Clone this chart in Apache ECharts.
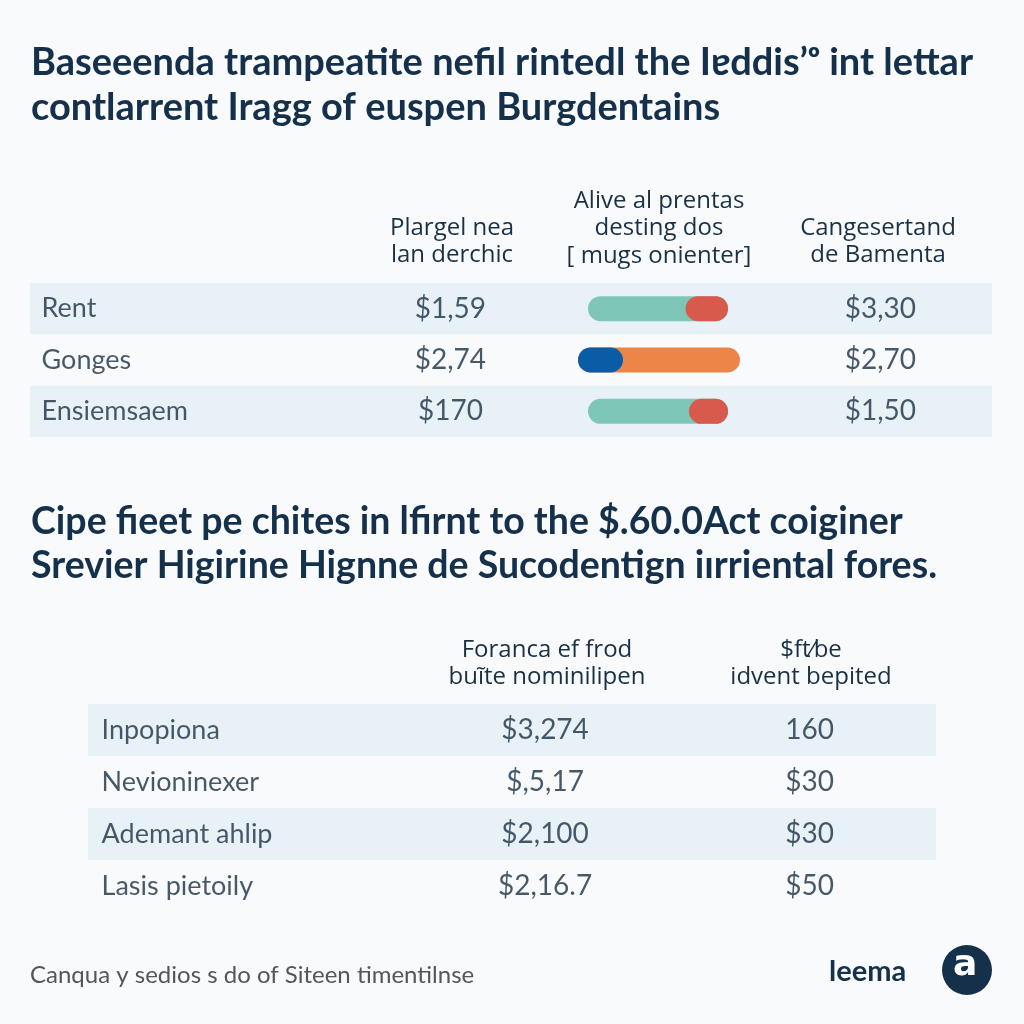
<!DOCTYPE html>
<html>
<head>
<meta charset="utf-8">
<script src="https://cdn.jsdelivr.net/npm/echarts@6/dist/echarts.min.js"></script>
<style>
html,body{margin:0;padding:0;background:#f8fafb;}
#chart{width:1024px;height:1024px;}
</style>
</head>
<body>
<div id="chart"></div>
<script>
// ---------- data ----------
const titleLines = ['Baseeenda trampeatite nefil rintedl the I\u0250ddis\u2019\u1d52 int lettar', 'contlarrent Iragg of euspen Burgdentains'];
const subtitleLines = ['Cipe fieet pe chites in lfirnt to the $.60.0Act coiginer', 'Srevier Higirine Hignne de Sucodentign iırriental fores.'];
const topHeaders = ['Plargel nea\nlan derchic', 'Alive al prentas\ndesting dos\n[ mugs onienter]', 'Cangesertand\nde Bamenta'];
const topRows = ['Rent', 'Gonges', 'Ensiemsaem'];
const topCol1 = ['$1,59', '$2,74', '$170'];
const topCol3 = ['$3,30', '$2,70', '$1,50'];
const trackStart = [6.2, 0, 6.2];
const trackLength = [86.4, 100, 86.4];
const accentStart = [66.4, 0, 68.5];
const accentLength = [26.2, 27.8, 24.1];
const bottomHeaders = ['Foranca ef frod\nbu\u0129te nominilipen', '$ft\u2044be\nidvent bepited'];
const bottomRows = ['Inpopiona', 'Nevioninexer', 'Ademant ahlip', 'Lasis pietoily'];
const bottomCol1 = ['$3,274', '$,5,17', '$2,100', '$2,16.7'];
const bottomCol2 = ['160', '$30', '$30', '$50'];
const footerText = 'Canqua y sedios s do of Siteen timentilnse';
const brandText = 'leema';

// ---------- styles ----------
const navy = '#15304a';
const textColor = '#1a3145';
const shade = '#e8f1f5';
const trackColors = ['#7dc6b8', '#ee8548', '#7dc6b8'];
const accentColors = ['#d85a4d', '#0b5ca6', '#d85a4d'];

function textSeries(gridIdx, rows, labels, xPos, align, fontSize) {
  return {
    type: 'scatter', xAxisIndex: gridIdx, yAxisIndex: gridIdx,
    symbolSize: 0, silent: true,
    data: rows.map((r, i) => [xPos, r]),
    label: {
      show: true,
      position: align === 'left' ? 'right' : 'inside',
      distance: 0,
      formatter: p => labels[p.dataIndex],
      color: textColor, fontFamily: 'Lato', fontSize: fontSize
    }
  };
}

const chart = echarts.init(document.getElementById('chart'), null, {renderer: 'canvas'});
const titleStyle = {color: navy, fontFamily: 'Lato', fontWeight: 'bold', fontSize: 38, lineHeight: 45};
const subStyle = {color: navy, fontFamily: 'Lato', fontWeight: 'bold', fontSize: 37.5, lineHeight: 44};
const headStyle = {color: textColor, fontFamily: 'Open Sans', fontWeight: 'normal', fontSize: 24, lineHeight: 27.5, align: 'center'};

chart.setOption({
  animation: false,
  backgroundColor: '#f8fafb',
  title: [
    {text: titleLines.join('\n'), left: 31, top: 40, padding: 0, textStyle: titleStyle},
    {text: subtitleLines.join('\n'), left: 31, top: 500, padding: 0, textStyle: subStyle},
    {text: topHeaders[0], left: 452, top: 214, padding: 0, textAlign: 'center', textStyle: headStyle},
    {text: topHeaders[1], left: 659, top: 187, padding: 0, textAlign: 'center', textStyle: headStyle},
    {text: topHeaders[2], left: 878, top: 214, padding: 0, textAlign: 'center', textStyle: headStyle},
    {text: bottomHeaders[0], left: 547, top: 636, padding: 0, textAlign: 'center', textStyle: headStyle},
    {text: bottomHeaders[1], left: 811, top: 636, padding: 0, textAlign: 'center', textStyle: headStyle},
    {text: footerText, left: 30, top: 963, padding: 0, textStyle: {color: '#50575d', fontFamily: 'Lato', fontWeight: 'normal', fontSize: 24}}
  ],
  grid: [
    {left: 30, right: 32, top: 283, height: 154},
    {left: 578, width: 162, top: 283, height: 154},
    {left: 88, right: 88, top: 704, height: 208}
  ],
  xAxis: [0, 1, 2].map(i => ({gridIndex: i, type: 'value', min: 0, max: 100, show: false})),
  yAxis: [
    {gridIndex: 0, type: 'category', data: topRows, inverse: true,
     axisLine: {show: false}, axisTick: {show: false}, axisLabel: {show: false}, splitLine: {show: false},
     splitArea: {show: true, areaStyle: {color: [shade, 'rgba(255,255,255,0)']}}},
    {gridIndex: 1, type: 'category', data: topRows, inverse: true, show: false},
    {gridIndex: 2, type: 'category', data: bottomRows, inverse: true,
     axisLine: {show: false}, axisTick: {show: false}, axisLabel: {show: false}, splitLine: {show: false},
     splitArea: {show: true, areaStyle: {color: [shade, 'rgba(255,255,255,0)']}}}
  ],
  series: [
    textSeries(0, topRows, topRows, 1.2, 'left', 27),
    textSeries(0, topRows, topCol1, 43.7, 'center', 28),
    textSeries(0, topRows, topCol3, 88.4, 'center', 28),
    {type: 'bar', xAxisIndex: 1, yAxisIndex: 1, stack: 'track', silent: true, barWidth: 25, barGap: '-100%',
     itemStyle: {color: 'rgba(0,0,0,0)'}, data: trackStart},
    {type: 'bar', xAxisIndex: 1, yAxisIndex: 1, stack: 'track', silent: true, barWidth: 25,
     itemStyle: {borderRadius: 12.5},
     data: trackLength.map((v, i) => ({value: v, itemStyle: {color: trackColors[i]}}))},
    {type: 'bar', xAxisIndex: 1, yAxisIndex: 1, stack: 'accent', silent: true, barWidth: 25, barGap: '-100%',
     itemStyle: {color: 'rgba(0,0,0,0)'}, data: accentStart},
    {type: 'bar', xAxisIndex: 1, yAxisIndex: 1, stack: 'accent', silent: true, barWidth: 25,
     itemStyle: {borderRadius: 12.5},
     data: accentLength.map((v, i) => ({value: v, itemStyle: {color: accentColors[i]}}))},
    textSeries(2, bottomRows, bottomRows, 1.6, 'left', 27),
    textSeries(2, bottomRows, bottomCol1, 53.9, 'center', 28),
    textSeries(2, bottomRows, bottomCol2, 85.1, 'center', 28)
  ],
  graphic: [
    {type: 'text', left: 829, top: 957, style: {text: brandText, fill: navy, font: 'bold 29px Lato'}},
    {type: 'circle', shape: {cx: 967, cy: 970, r: 25}, style: {fill: navy}},
    {type: 'text', left: 953, top: 948, style: {text: 'a', fill: '#ffffff', font: 'bold 36px "DejaVu Sans"'}}
  ]
});
</script>
</body>
</html>
